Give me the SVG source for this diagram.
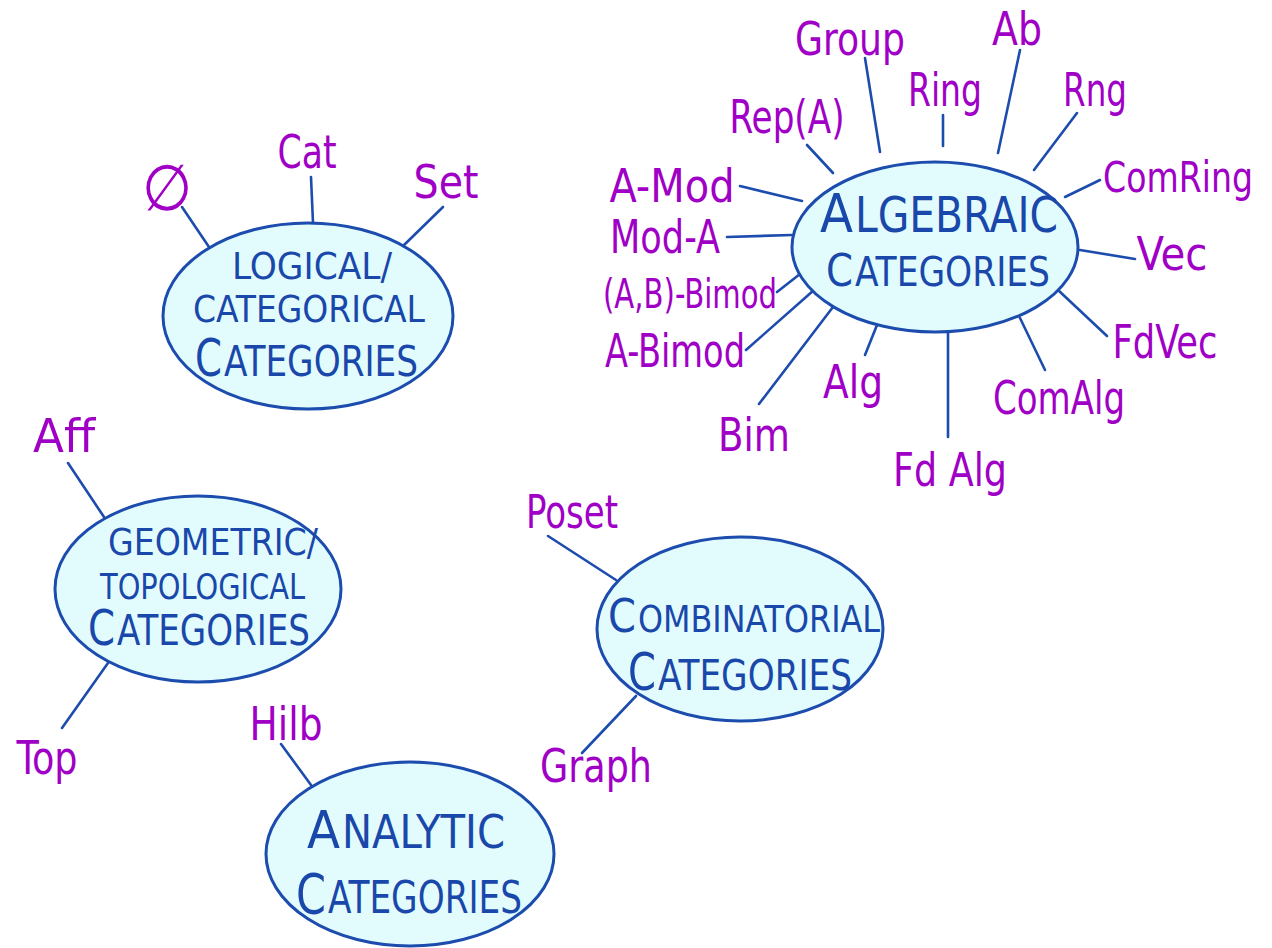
<svg xmlns="http://www.w3.org/2000/svg" width="1272" height="948" viewBox="0 0 1272 948">
<style>
.node ellipse{fill:#e2fcfe;stroke:#1c4cad;stroke-width:3}
.cat{font-family:"DejaVu Sans Condensed","Liberation Sans Narrow","Liberation Sans",sans-serif;fill:#1a48aa}
.lbl{font-family:"DejaVu Sans Condensed","Liberation Sans Narrow","Liberation Sans",sans-serif;fill:#a000c6;text-anchor:middle}
.conn line{stroke:#1c4cad;stroke-width:2.6;stroke-linecap:round}
</style>
<rect width="1272" height="948" fill="#ffffff"/>
<g class="conn" id="connectors">
<line x1="182" y1="207" x2="209" y2="247"/>
<line x1="311" y1="177" x2="313" y2="223"/>
<line x1="443" y1="207" x2="403" y2="246"/>
<line x1="865" y1="58" x2="880" y2="152"/>
<line x1="943" y1="115" x2="943" y2="146"/>
<line x1="1020" y1="50" x2="998" y2="153"/>
<line x1="1077" y1="113" x2="1034" y2="170"/>
<line x1="1100" y1="180" x2="1065" y2="197"/>
<line x1="1080" y1="250" x2="1135" y2="259"/>
<line x1="1058" y1="290" x2="1107" y2="336"/>
<line x1="1020" y1="318" x2="1045" y2="370"/>
<line x1="948" y1="333" x2="948" y2="437"/>
<line x1="877" y1="325" x2="865" y2="355"/>
<line x1="833" y1="307" x2="759" y2="404"/>
<line x1="814" y1="290" x2="746" y2="350"/>
<line x1="800" y1="274" x2="777" y2="292"/>
<line x1="727" y1="237" x2="792" y2="235"/>
<line x1="740" y1="186" x2="802" y2="201"/>
<line x1="807" y1="145" x2="833" y2="173"/>
<line x1="68" y1="463" x2="104" y2="517"/>
<line x1="62" y1="728" x2="108" y2="663"/>
<line x1="548" y1="536" x2="616" y2="580"/>
<line x1="636" y1="696" x2="582" y2="753"/>
<line x1="281" y1="744" x2="311" y2="785"/>
</g>
<g class="node" id="logical">
<ellipse cx="308" cy="316" rx="145" ry="93"/>
<text class="cat" x="232" y="279" font-size="38" textLength="160" lengthAdjust="spacingAndGlyphs">LOGICAL/</text>
<text class="cat" x="193" y="322" font-size="38" textLength="232" lengthAdjust="spacingAndGlyphs">CATEGORICAL</text>
<text class="cat" x="195" y="376" font-size="52" textLength="27" lengthAdjust="spacingAndGlyphs">C</text>
<text class="cat" x="224" y="376" font-size="42" textLength="194" lengthAdjust="spacingAndGlyphs">ATEGORIES</text>
</g>
<g class="node" id="algebraic">
<ellipse cx="935" cy="247" rx="143" ry="85"/>
<text class="cat" x="820" y="232" font-size="54" textLength="33" lengthAdjust="spacingAndGlyphs">A</text>
<text class="cat" x="855" y="232" font-size="50" textLength="203" lengthAdjust="spacingAndGlyphs">LGEBRAIC</text>
<text class="cat" x="826" y="286" font-size="44" textLength="27" lengthAdjust="spacingAndGlyphs">C</text>
<text class="cat" x="855" y="286" font-size="40" textLength="195" lengthAdjust="spacingAndGlyphs">ATEGORIES</text>
</g>
<g class="node" id="geometric">
<ellipse cx="198" cy="589" rx="143" ry="93"/>
<text class="cat" x="108" y="555" font-size="38" textLength="210" lengthAdjust="spacingAndGlyphs">GEOMETRIC/</text>
<text class="cat" x="100" y="599" font-size="36" textLength="205" lengthAdjust="spacingAndGlyphs">TOPOLOGICAL</text>
<text class="cat" x="88" y="645" font-size="50" textLength="27" lengthAdjust="spacingAndGlyphs">C</text>
<text class="cat" x="117" y="645" font-size="42" textLength="193" lengthAdjust="spacingAndGlyphs">ATEGORIES</text>
</g>
<g class="node" id="combinatorial">
<ellipse cx="740" cy="629" rx="143" ry="92"/>
<text class="cat" x="608" y="632" font-size="46" textLength="28" lengthAdjust="spacingAndGlyphs">C</text>
<text class="cat" x="638" y="632" font-size="38" textLength="242" lengthAdjust="spacingAndGlyphs">OMBINATORIAL</text>
<text class="cat" x="628" y="690" font-size="52" textLength="28" lengthAdjust="spacingAndGlyphs">C</text>
<text class="cat" x="658" y="690" font-size="42" textLength="194" lengthAdjust="spacingAndGlyphs">ATEGORIES</text>
</g>
<g class="node" id="analytic">
<ellipse cx="410" cy="854" rx="144" ry="92"/>
<text class="cat" x="307" y="848" font-size="52" textLength="33" lengthAdjust="spacingAndGlyphs">A</text>
<text class="cat" x="342" y="848" font-size="46" textLength="163" lengthAdjust="spacingAndGlyphs">NALYTIC</text>
<text class="cat" x="296" y="913" font-size="56" textLength="30" lengthAdjust="spacingAndGlyphs">C</text>
<text class="cat" x="328" y="913" font-size="44" textLength="194" lengthAdjust="spacingAndGlyphs">ATEGORIES</text>
</g>
<g id="labels" font-size="46">
<text class="lbl" x="167" y="210" font-size="64">∅</text>
<text class="lbl" x="307" y="168" textLength="59" lengthAdjust="spacingAndGlyphs">Cat</text>
<text class="lbl" x="446" y="198" textLength="65" lengthAdjust="spacingAndGlyphs">Set</text>
<text class="lbl" x="850" y="55" textLength="110" lengthAdjust="spacingAndGlyphs">Group</text>
<text class="lbl" x="1017" y="45" textLength="50" lengthAdjust="spacingAndGlyphs">Ab</text>
<text class="lbl" x="945" y="106" textLength="74" lengthAdjust="spacingAndGlyphs">Ring</text>
<text class="lbl" x="1095" y="106" textLength="64" lengthAdjust="spacingAndGlyphs">Rng</text>
<text class="lbl" x="787" y="133" textLength="115" lengthAdjust="spacingAndGlyphs">Rep(A)</text>
<text class="lbl" x="1178" y="192" font-size="42" textLength="150" lengthAdjust="spacingAndGlyphs">ComRing</text>
<text class="lbl" x="672" y="202" textLength="125" lengthAdjust="spacingAndGlyphs">A-Mod</text>
<text class="lbl" x="665" y="253" textLength="110" lengthAdjust="spacingAndGlyphs">Mod-A</text>
<text class="lbl" x="1172" y="270" textLength="71" lengthAdjust="spacingAndGlyphs">Vec</text>
<text class="lbl" x="690" y="308" font-size="40" textLength="174" lengthAdjust="spacingAndGlyphs">(A,B)-Bimod</text>
<text class="lbl" x="675" y="367" textLength="140" lengthAdjust="spacingAndGlyphs">A-Bimod</text>
<text class="lbl" x="1165" y="358" textLength="105" lengthAdjust="spacingAndGlyphs">FdVec</text>
<text class="lbl" x="853" y="398" textLength="60" lengthAdjust="spacingAndGlyphs">Alg</text>
<text class="lbl" x="1059" y="414" textLength="132" lengthAdjust="spacingAndGlyphs">ComAlg</text>
<text class="lbl" x="754" y="451" textLength="72" lengthAdjust="spacingAndGlyphs">Bim</text>
<text class="lbl" x="950" y="486" textLength="114" lengthAdjust="spacingAndGlyphs">Fd Alg</text>
<text class="lbl" x="64" y="452" textLength="62" lengthAdjust="spacingAndGlyphs">Aff</text>
<text class="lbl" x="47" y="774" textLength="61" lengthAdjust="spacingAndGlyphs">Top</text>
<text class="lbl" x="286" y="740" textLength="73" lengthAdjust="spacingAndGlyphs">Hilb</text>
<text class="lbl" x="572" y="528" textLength="92" lengthAdjust="spacingAndGlyphs">Poset</text>
<text class="lbl" x="596" y="782" textLength="112" lengthAdjust="spacingAndGlyphs">Graph</text>
</g>
</svg>
